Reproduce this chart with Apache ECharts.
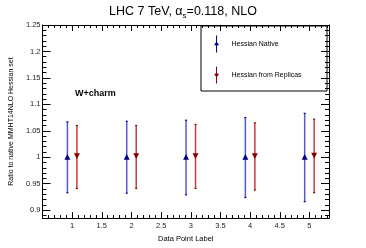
<!DOCTYPE html>
<html><head><meta charset="utf-8">
<script src="https://cdn.jsdelivr.net/npm/echarts@6/dist/echarts.min.js"></script>
<style>html,body{margin:0;padding:0;background:#fff}#c{width:366px;height:248px}</style>
</head><body><div id="c"></div>
<script>
const pointLabels = [1, 2, 3, 4, 5];
const nativeCentral = [1.0, 1.0, 1.0, 1.0, 1.0];
const nativeLow = [0.933, 0.932, 0.929, 0.924, 0.916];
const nativeHigh = [1.067, 1.068, 1.070, 1.075, 1.083];
const replicaCentral = [1.003, 1.003, 1.003, 1.003, 1.004];
const replicaLow = [0.941, 0.941, 0.941, 0.938, 0.933];
const replicaHigh = [1.060, 1.060, 1.062, 1.065, 1.072];
const xOffset = 0.08;

const FONT = 'Liberation Sans, Arial, sans-serif';
const BLUE_LINE = '#5858d0', BLUE_MARK = '#000080';
const RED_LINE = '#cc3b3b', RED_MARK = '#800000';

function build(c, lo, hi, off) {
  return pointLabels.map((p, i) => [p + off, c[i], lo[i], hi[i]]);
}
const nativeData = build(nativeCentral, nativeLow, nativeHigh, -xOffset);
const replicaData = build(replicaCentral, replicaLow, replicaHigh, xOffset);

function errRender(lineColor, markColor, up) {
  return function (params, api) {
    const x = api.value(0);
    const pc = api.coord([x, api.value(1)]);
    const pl = api.coord([x, api.value(2)]);
    const ph = api.coord([x, api.value(3)]);
    const s = 3;
    const tri = up
      ? [[pc[0] - s, pc[1] + s * 0.8], [pc[0] + s, pc[1] + s * 0.8], [pc[0], pc[1] - s * 1.1]]
      : [[pc[0] - s, pc[1] - s * 0.8], [pc[0] + s, pc[1] - s * 0.8], [pc[0], pc[1] + s * 1.1]];
    return {
      type: 'group',
      children: [
        { type: 'line', shape: { x1: pl[0], y1: pl[1], x2: ph[0], y2: ph[1] }, style: { stroke: lineColor, lineWidth: 1.5 } },
        { type: 'line', shape: { x1: pl[0] - 1, y1: pl[1], x2: pl[0] + 1, y2: pl[1] }, style: { stroke: markColor, lineWidth: 1.2 } },
        { type: 'line', shape: { x1: ph[0] - 1, y1: ph[1], x2: ph[0] + 1, y2: ph[1] }, style: { stroke: markColor, lineWidth: 1.2 } },
        { type: 'polygon', shape: { points: tri }, style: { fill: markColor } }
      ]
    };
  };
}

const axisLine = { show: true, lineStyle: { color: '#000', width: 1 } };
const chart = echarts.init(document.getElementById('c'), null, { renderer: 'canvas' });
const xCommon = {
  type: 'value', min: 0.5, max: 5.33, interval: 0.5,
  axisLine: axisLine, splitLine: { show: false },
  axisTick: { show: true, inside: true, length: 6, lineStyle: { color: '#000' } },
  minorTick: { show: true, splitNumber: 5, length: 3, lineStyle: { color: '#000' } }
};
const yCommon = {
  type: 'value', min: 0.885, max: 1.25, splitNumber: 7,
  axisLine: axisLine, splitLine: { show: false },
  axisTick: { show: true, inside: true, length: 8, lineStyle: { color: '#000' } },
  minorTick: { show: true, splitNumber: 5, length: 4, lineStyle: { color: '#000' } }
};
chart.setOption({
  animation: false,
  backgroundColor: '#fff',
  title: {
    text: '{a|LHC 7 TeV, α}{s|s}{a|=0.118, NLO}',
    left: 'center', top: -1,
    textStyle: {
      fontWeight: 'normal',
      rich: {
        a: { fontFamily: FONT, fontSize: 12.5, fontWeight: 'normal', color: '#000', lineHeight: 16 },
        s: { fontFamily: FONT, fontSize: 8, fontWeight: 'normal', color: '#000', lineHeight: 16, padding: [8, 0, 0, 0] }
      }
    }
  },
  grid: { left: 36, right: 37, top: 25, bottom: 27 },
  xAxis: [
    Object.assign({}, xCommon, {
      position: 'bottom',
      name: 'Data Point Label', nameLocation: 'middle', nameGap: 12,
      nameTextStyle: { fontFamily: FONT, fontSize: 7.5, color: '#000' },
      axisLabel: {
        fontFamily: FONT, fontSize: 7.5, color: '#222', margin: 4, showMinLabel: false, showMaxLabel: false,
        formatter: v => (v < 0.9 || v > 5.1 ? '' : String(v))
      }
    }),
    Object.assign({}, xCommon, { position: 'top', axisLabel: { show: false } })
  ],
  yAxis: [
    Object.assign({}, yCommon, {
      position: 'left',
      name: 'Ratio to native MMHT14NLO Hessian set', nameLocation: 'middle', nameGap: 26,
      nameTextStyle: { fontFamily: FONT, fontSize: 7, color: '#000' },
      axisLabel: {
        fontFamily: FONT, fontSize: 7.5, color: '#222', margin: 2, showMinLabel: false,
        formatter: v => String(Math.round(v * 100) / 100)
      }
    }),
    Object.assign({}, yCommon, { position: 'right', axisLabel: { show: false } })
  ],
  legend: {
    left: 214, top: 35.5, orient: 'vertical', itemGap: 14, padding: 0,
    itemWidth: 6, itemHeight: 17,
    textStyle: { fontFamily: FONT, fontSize: 7, color: '#000', padding: [0, 0, 0, 7] },
    data: [
      { name: 'Hessian Native', icon: 'path://M2.4,0 L3.6,0 L3.6,8 L6,11.5 L3.6,11.5 L3.6,20 L2.4,20 L2.4,11.5 L0,11.5 L2.4,8 Z', itemStyle: { color: BLUE_MARK } },
      { name: 'Hessian from Replicas', icon: 'path://M2.4,0 L3.6,0 L3.6,8.5 L6,8.5 L3.6,12 L3.6,20 L2.4,20 L2.4,12 L0,8.5 L2.4,8.5 Z', itemStyle: { color: RED_MARK } }
    ]
  },
  graphic: [
    { type: 'rect', shape: { x: 201, y: 26, width: 126, height: 65 }, style: { fill: 'none', stroke: '#000', lineWidth: 1 }, z: 10 },
    { type: 'text', left: 75, top: 89.5, style: { text: 'W+charm', fontFamily: FONT, fontSize: 9, fontWeight: 'bold', fill: '#000' } }
  ],
  series: [
    { name: 'Hessian Native', type: 'custom', renderItem: errRender(BLUE_LINE, BLUE_MARK, true), data: nativeData, itemStyle: { color: BLUE_MARK }, encode: { x: 0, y: [1, 2, 3] }, clip: true },
    { name: 'Hessian from Replicas', type: 'custom', renderItem: errRender(RED_LINE, RED_MARK, false), data: replicaData, itemStyle: { color: RED_MARK }, encode: { x: 0, y: [1, 2, 3] }, clip: true }
  ]
});
</script></body></html>
